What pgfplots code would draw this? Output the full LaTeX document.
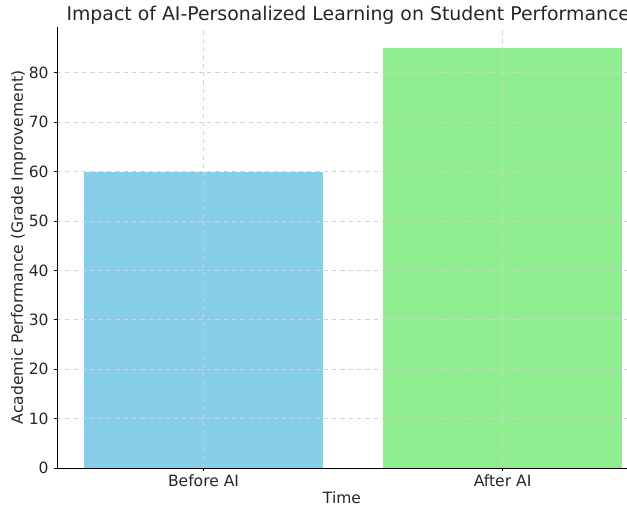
\documentclass[border=0pt]{standalone}
\usepackage{pgfplots}
\pgfplotsset{compat=1.18}
\usepackage{fontspec}
\setmainfont{DejaVu Sans}
\definecolor{skyb}{HTML}{87CEEB}
\definecolor{lgreen}{HTML}{90EE90}
\definecolor{txt}{HTML}{262626}
\begin{document}
\begin{tikzpicture}
\useasboundingbox (-41.04pt,-30.24pt) rectangle (410.4pt,336.96pt);
\begin{axis}[
  scale only axis,
  width=410.4pt, height=317.5pt,
  xmin=-0.49, xmax=1.416,
  ymin=0, ymax=89.25,
  axis x line*=bottom, axis y line*=left,
  axis line style={-, black, line width=0.6pt},
  xtick={0,1}, xticklabels={Before AI, After AI},
  ytick={0,10,...,80},
  tick align=outside,
  major tick length=2.5pt,
  tick style={black, line width=0.6pt},
  /pgf/number format/assume math mode=true,
  ticklabel style={font=\fontsize{11.2}{13}\selectfont, text=txt},
  xticklabel style={yshift=1pt},
  grid=major,
  major grid style={dashed, gray!35, line width=0.45pt},
  axis on top,
  title={Impact of AI-Personalized Learning on Student Performance},
  title style={at={(rel axis cs:0.511,1)}, anchor=base, yshift=-1pt, font=\fontsize{13.6}{16}\selectfont, text=txt},
  xlabel={Time},
  ylabel={Academic Performance (Grade Improvement)},
  xlabel style={font=\fontsize{11.2}{13}\selectfont, text=txt, yshift=3.5pt},
  ylabel style={font=\fontsize{11.2}{13}\selectfont, text=txt, yshift=-5pt},
  ybar, bar width=0.8, bar shift=0pt,
]
\addplot[fill=skyb, draw=none] coordinates {(0,60)};
\addplot[fill=lgreen, draw=none] coordinates {(1,85)};
\end{axis}
\end{tikzpicture}
\end{document}
